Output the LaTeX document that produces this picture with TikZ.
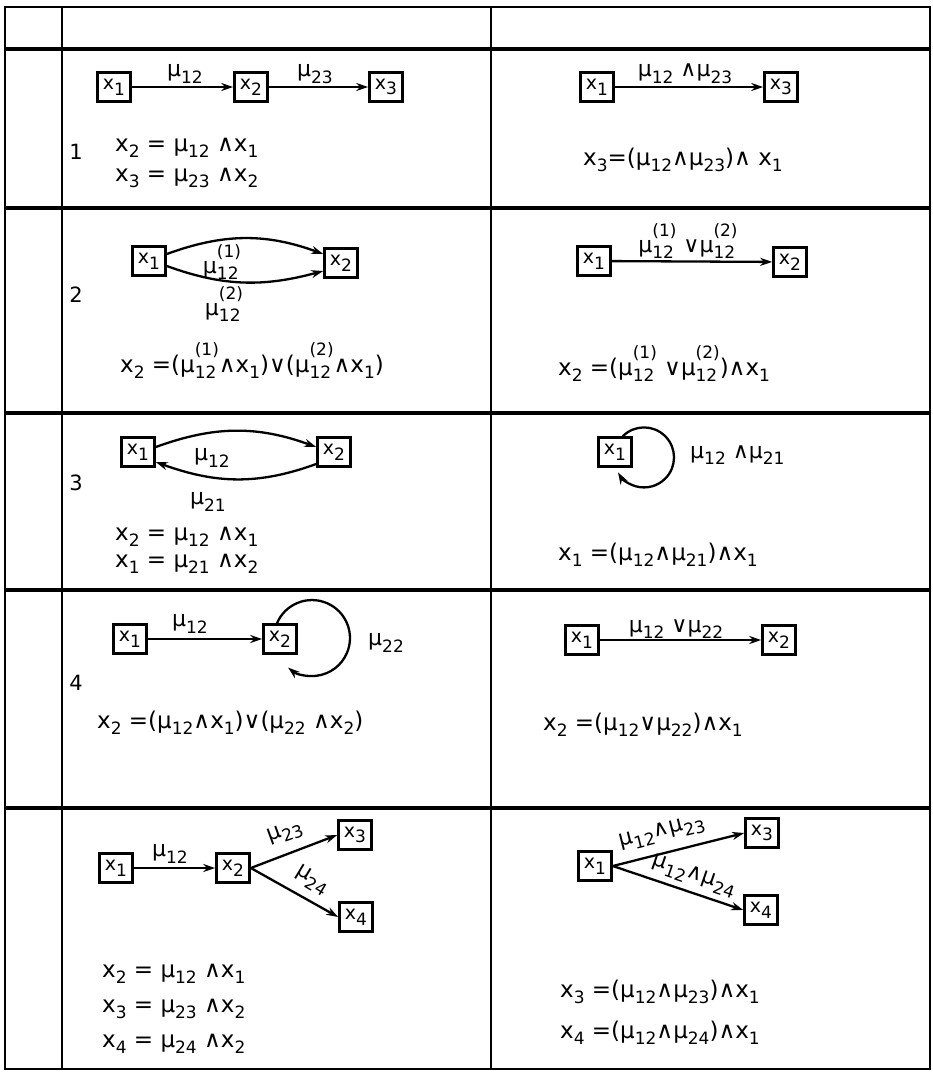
\documentclass[tikz,border=0pt]{standalone}
\usepackage{fontspec}
\setmainfont{DejaVu Sans}
\usetikzlibrary{arrows.meta}
\newcommand\sz{\fontsize{17}{17}\selectfont}
\newcommand\lo[1]{\raisebox{-0.3em}{\sz #1}}
\newcommand\lohi[2]{\rlap{\raisebox{0.72em}{\sz #2}}\rlap{\raisebox{-0.3em}{\sz #1}}\hphantom{\sz #2}}
\newcommand\AND{∧}
\newcommand\OR{∨}
\begin{document}
\begin{tikzpicture}[x=1pt,y=-1pt,
 box/.style={draw,line width=2.6pt,minimum width=33pt,minimum height=29pt,inner sep=0pt,font=\fontsize{19}{19}\selectfont},
 arr/.style={line width=2.3pt,-{Stealth[length=12pt,width=8pt]}},
 lbl/.style={font=\fontsize{22}{22}\selectfont,inner sep=0pt},
 eq/.style={font=\fontsize{23}{26}\selectfont,inner sep=0pt,anchor=base west},
 num/.style={font=\fontsize{21}{21}\selectfont,inner sep=0pt},
 gridline/.style={line width=2.2pt},
 rowline/.style={line width=3.2pt}]
\useasboundingbox (0,0) rectangle (933,1072);
% table
\draw[gridline] (5,7) rectangle (930,1069);
\draw[gridline] (62,7) -- (62,1069);
\draw[gridline] (491,7) -- (491,1069);
\draw[rowline] (5,49) -- (930,49);
\draw[rowline] (5,208) -- (930,208);
\draw[rowline] (5,413) -- (930,413);
\draw[rowline] (5,590) -- (930,590);
\draw[rowline] (5,808) -- (930,808);
% row numbers
\node[num] (n1) at (76,152) {1};
\node[num] (n2) at (76,295) {2};
\node[num] (n3) at (76,483) {3};
\node[num] (n4) at (76,683) {4};
% ---- row 1 left
\node[box] (a1) at (114,87) {x\lo{1}};
\node[box] (a2) at (251,87) {x\lo{2}};
\node[box] (a3) at (386,87) {x\lo{3}};
\draw[arr] (a1) -- (a2);
\draw[arr] (a2) -- (a3);
\node[lbl] (la12) at (185,74) {μ\lo{12}};
\node[lbl] (la23) at (315,74) {μ\lo{23}};
\node[eq] (ea1) at (115,151) {x\lo{2} = μ\lo{12} \AND x\lo{1}};
\node[eq] (ea2) at (115,181) {x\lo{3} = μ\lo{23} \AND x\lo{2}};
% ---- row 1 right
\node[box] (b1) at (597,87) {x\lo{1}};
\node[box] (b3) at (781,87) {x\lo{3}};
\draw[arr] (b1) -- (b3);
\node[lbl] (lb) at (685,74) {μ\lo{12} \AND μ\lo{23}};
\node[eq] (eb) at (583,165) {x\lo{3}=(μ\lo{12}\AND μ\lo{23})\AND\ x\lo{1}};
% ---- row 2 left
\node[box] (c1) at (149,261) {x\lo{1}};
\node[box] (c2) at (341,263) {x\lo{2}};
\draw[arr] ([yshift=7pt]c1.east) to[out=20,in=160] ([yshift=9pt]c2.west);
\draw[arr] ([yshift=-5pt]c1.east) to[out=-20,in=-165] ([yshift=-8pt]c2.west);
\node[lbl] (lc1) at (222,262) {μ\lohi{12}{(1)}};
\node[lbl] (lc2) at (224,304) {μ\lohi{12}{(2)}};
\node[eq] (ec) at (120,372) {x\lo{2} =(μ\lohi{12}{(1)}\AND x\lo{1})\OR(μ\lohi{12}{(2)}\AND x\lo{1})};
% ---- row 2 right
\node[box] (d1) at (594,261) {x\lo{1}};
\node[box] (d2) at (790,262) {x\lo{2}};
\draw[arr] (d1) -- (d2);
\node[lbl,anchor=base] (ld) at (688,252) {μ\lohi{12}{(1)} \OR μ\lohi{12}{(2)}};
\node[eq] (ed) at (558,375) {x\lo{2} =(μ\lohi{12}{(1)} \OR μ\lohi{12}{(2)})\AND x\lo{1}};
% ---- row 3 left
\node[box] (g1) at (138,452) {x\lo{1}};
\node[box] (g2) at (334,452) {x\lo{2}};
\draw[arr] ([yshift=5pt]g1.east) to[out=20,in=160] ([yshift=5pt]g2.west);
\draw[arr] ([yshift=-12pt]g2.west) to[out=-160,in=-20] ([yshift=-10pt]g1.east);
\node[lbl] (lg1) at (212,458) {μ\lo{12}};
\node[lbl] (lg2) at (208,502) {μ\lo{21}};
\node[eq] (eg1) at (115,540) {x\lo{2} = μ\lo{12} \AND x\lo{1}};
\node[eq] (eg2) at (115,567) {x\lo{1} = μ\lo{21} \AND x\lo{2}};
% ---- row 3 right
\node[box] (h1) at (615,452) {x\lo{1}};
\draw[arr] ([xshift=-10pt]h1.north east) arc[start angle=135,end angle=-150,radius=30pt];
\node[lbl,anchor=west] (lh) at (690,455) {μ\lo{12} \AND μ\lo{21}};
\node[eq] (eh) at (558,560) {x\lo{1} =(μ\lo{12}\AND μ\lo{21})\AND x\lo{1}};
% ---- row 4 left
\node[box] (k1) at (130,639) {x\lo{1}};
\node[box] (k2) at (280,639) {x\lo{2}};
\draw[arr] (k1) -- (k2);
\node[lbl] (lk) at (190,624) {μ\lo{12}};
\draw[arr] ([xshift=-3pt]k2.north) arc[start angle=157,end angle=-129,radius=38pt];
\node[lbl,anchor=west] (lk2) at (368,643) {μ\lo{22}};
\node[eq] (ek) at (97,728) {x\lo{2} =(μ\lo{12}\AND x\lo{1})\OR(μ\lo{22} \AND x\lo{2})};
% ---- row 4 right
\node[box] (m1) at (582,640) {x\lo{1}};
\node[box] (m2) at (779,640) {x\lo{2}};
\draw[arr] (m1) -- (m2);
\node[lbl,anchor=base] (lm) at (676,632) {μ\lo{12} \OR μ\lo{22}};
\node[eq] (em) at (543,730) {x\lo{2} =(μ\lo{12}\OR μ\lo{22})\AND x\lo{1}};
% ---- row 5 left
\node[box] (p1) at (116,868) {x\lo{1}};
\node[box] (p2) at (233,868) {x\lo{2}};
\node[box] (p3) at (355,835) {x\lo{3}};
\node[box] (p4) at (356,917) {x\lo{4}};
\draw[arr] (p1) -- (p2);
\draw[arr] (p2.east) -- (p3.west);
\draw[arr] (p2.east) -- (p4.west);
\node[lbl] (lp1) at (170,854) {μ\lo{12}};
\node[lbl,rotate=20] (lp2) at (285,833) {μ\lo{23}};
\node[lbl,rotate=-31] (lp3) at (312,880) {μ\lo{24}};
\node[eq] (ep1) at (102,977) {x\lo{2} = μ\lo{12} \AND x\lo{1}};
\node[eq] (ep2) at (102,1012) {x\lo{3} = μ\lo{23} \AND x\lo{2}};
\node[eq] (ep3) at (102,1047) {x\lo{4} = μ\lo{24} \AND x\lo{2}};
% ---- row 5 right
\node[box] (q1) at (595,866) {x\lo{1}};
\node[box] (q3) at (762,833) {x\lo{3}};
\node[box] (q4) at (761,910) {x\lo{4}};
\draw[arr] (q1.east) -- (q3.west);
\draw[arr] (q1.east) -- (q4.west);
\node[lbl,rotate=14] (lq1) at (662,833) {μ\lo{12}\AND μ\lo{23}};
\node[lbl,rotate=-19] (lq2) at (694,876) {μ\lo{12}\AND μ\lo{24}};
\node[eq] (eq1) at (560,997) {x\lo{3} =(μ\lo{12}\AND μ\lo{23})\AND x\lo{1}};
\node[eq] (eq2) at (560,1038) {x\lo{4} =(μ\lo{12}\AND μ\lo{24})\AND x\lo{1}};
\end{tikzpicture}
\end{document}
